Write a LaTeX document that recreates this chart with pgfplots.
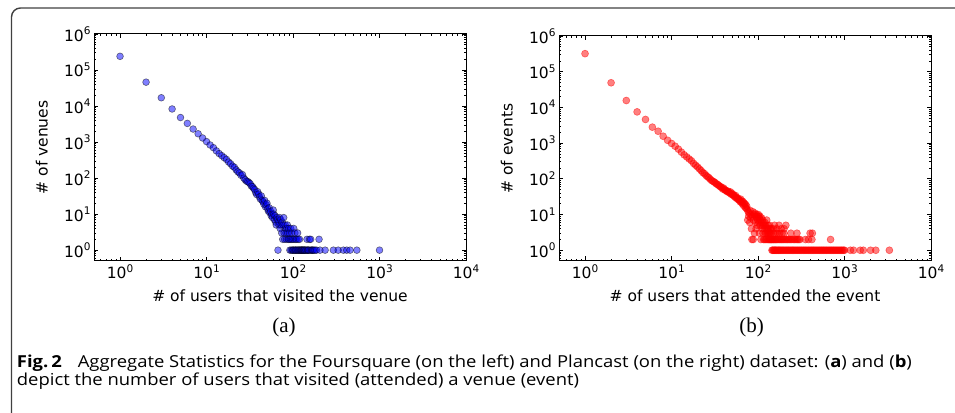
\documentclass[border=0pt]{standalone}
\usepackage{fontspec}
\usepackage{graphicx}
\usepackage{pgfplots}
\pgfplotsset{compat=1.18}
\setmainfont{DejaVu Sans}
\setsansfont{Open Sans}
\setmonofont{Liberation Serif}
\newsavebox\capone
\newsavebox\captwo
\definecolor{framegray}{gray}{0.25}
\pgfplotsset{
  myaxis/.style={
    scale only axis,
    xmin=0.5, xmax=10000, ymin=0.5, ymax=1000000,
    xtick={1,10,100,1000,10000},
    ytick={1,10,100,1000,10000,100000,1000000},
    minor xtick={0.6,0.7,0.8,0.9,2,3,4,5,6,7,8,9,20,30,40,50,60,70,80,90,200,300,400,500,600,700,800,900,2000,3000,4000,5000,6000,7000,8000,9000},
    minor ytick={0.6,0.7,0.8,0.9,2,3,4,5,6,7,8,9,20,30,40,50,60,70,80,90,200,300,400,500,600,700,800,900,2000,3000,4000,5000,6000,7000,8000,9000,20000,30000,40000,50000,60000,70000,80000,90000,200000,300000,400000,500000,600000,700000,800000,900000},
    tick align=inside,
    major tick length=4.5pt, minor tick length=2.2pt,
    axis line style={line width=1pt, black},
    every tick/.style={black, line width=0.7pt},
    xticklabel={10\raisebox{6.5pt}{\fontsize{10.5}{12}\selectfont\pgfmathparse{int(round(\tick))}\pgfmathresult}},
    yticklabel={10\raisebox{6.5pt}{\fontsize{10.5}{12}\selectfont\pgfmathparse{int(round(\tick))}\pgfmathresult}},
    ticklabel style={font=\fontsize{15.5}{18}\selectfont, black},
    label style={font=\fontsize{15.5}{18}\selectfont, black},
    clip=false,
  }
}
\begin{document}
\sbox\capone{\sffamily\fontsize{16.5}{19}\selectfont\textbf{Fig.\,2}\hspace{0.6em} Aggregate Statistics for the Foursquare (on the left) and Plancast (on the right) dataset: (\textbf{a}) and (\textbf{b})}%
\sbox\captwo{\sffamily\fontsize{16.5}{19}\selectfont depict the number of users that visited (attended) a venue (event)}%
\pgfmathsetmacro\capscale{895/\wd\capone}%
\begin{tikzpicture}[x=1pt,y=1pt]
\useasboundingbox (0,0) rectangle (955,412);
\begin{scope}
\clip (0,0) rectangle (955,412);
\draw[framegray, line width=1.4pt, rounded corners=9pt] (11.5,-40) rectangle (1000,404);
\end{scope}

\begin{loglogaxis}[myaxis, log basis x=10, log basis y=10,
  at={(94pt,151pt)}, anchor=south west,
  width=372pt, height=227pt,
  xlabel={\# of users that visited the venue},
  ylabel={\# of venues},
  xlabel style={at={(axis description cs:0.5,-0.154)}, anchor=center},
  ylabel style={at={(axis description cs:-0.14,0.5)}, anchor=center},
]
\addplot[only marks, mark=*, mark size=3.4pt,
  mark options={fill=blue, fill opacity=0.5, draw=black, draw opacity=0.5, line width=0.6pt}]
coordinates {
(1,240000)(2,46000)(3,17000)(4,8300)(5,4800)(6,3300)(7,2300)(8,1700)(9,1300)(10,1030)
(11,830)(12,700)(13,570)(14,480)(15,420)(16,370)(17,330)(18,280)(19,250)(20,215)
(21,200)(22,170)(23,150)(24,140)(25,120)(26,125)(27,100)(28,90)(29,82)(30,80)
(31,75)(32,70)(33,60)(34,58)(35,52)(36,48)(37,40)(38,35)(39,42)(40,36)
(41,30)(42,26)(43,32)(44,24)(45,22)(46,19)(47,24)(48,16)(49,18)(50,20)
(51,14)(52,12)(53,15)(54,11)(55,12)(56,9)(57,10)(58,8)(59,13)(60,10)
(61,7)(62,9)(63,6)(64,5)(65,8)(66,7)(67,1)(68,6)(69,5)(70,8)
(71,4)(72,7)(73,5)(74,3)(75,6)(76,2)(77,5)(78,8)(79,3)(80,2)
(81,5)(82,4)(83,3)(84,2)(85,4)(86,5)(87,3)(88,2)(89,4)(90,2)
(91,3)(92,1)(93,2)(94,4)(95,1)(96,2)(97,3)(98,1)(99,2)(100,1)
(101,1)(102,4)(103,2)(104,1)(105,3)(106,1)(107,2)(108,1)(109,1)(110,2)
(112,1)(113,3)(114,1)(115,2)(116,1)(118,1)(119,2)(120,1)(122,1)(124,1)
(125,1)(127,1)(128,1)(130,1)(132,1)(134,1)(135,1)(137,1)(140,1)(142,1)
(145,2)(146,1)(148,1)(150,1)(152,1)(155,2)(157,1)(160,2)(162,1)(165,1)
(168,1)(170,1)(175,1)(180,1)(187,1)(200,2)(205,1)(235,1)(293,1)(333,1)
(382,1)(418,1)(457,1)(547,1)(1000,1)
};
\end{loglogaxis}

\begin{loglogaxis}[myaxis, log basis x=10, log basis y=10,
  at={(559pt,151pt)}, anchor=south west,
  width=372pt, height=225pt,
  xlabel={\# of users that attended the event},
  ylabel={\# of events},
  xlabel style={at={(axis description cs:0.5,-0.156)}, anchor=center},
  ylabel style={at={(axis description cs:-0.14,0.5)}, anchor=center},
]
\addplot[only marks, mark=*, mark size=3.5pt,
  mark options={fill=red, draw=red, opacity=0.5, line width=0.6pt}]
coordinates {
(1,320000)(2,49000)(3,15600)(4,7500)(5,4600)(6,2800)(7,2150)(8,1560)(9,1200)(10,980)
(11,820)(12,680)(13,560)(14,470)(15,410)(16,360)(17,320)(18,270)(19,240)(20,215)
(21,190)(22,170)(23,150)(24,140)(25,125)(26,115)(27,108)(28,98)(29,90)(30,86)
(31,82)(32,78)(33,72)(34,70)(35,66)(36,62)(37,60)(38,57)(39,52)(40,55)
(41,50)(42,48)(43,46)(44,44)(45,45)(46,42)(47,40)(48,43)(49,37)(50,39)
(51,35)(52,36)(53,33)(54,31)(55,34)(56,29)(57,30)(58,27)(59,28)(60,26)
(61,25)(62,23)(63,27)(64,22)(65,24)(66,20)(67,23)(68,18)(69,21)(70,20)
(71,16)(72,19)(73,15)(74,17)
(75,14)(76,7)(77,12)(78,9)(79,11)(80,6)(81,13)(82,8)(83,10)(84,4)
(85,2)(86,9)(87,12)(88,2)(89,7)(90,10)(91,3)(92,11)(93,6)(94,9)
(95,4)(96,10)(97,8)(98,5)(99,7)(100,9)(101,10)(102,6)(103,8)(104,3)
(105,9)(106,5)(107,7)(108,2)(109,6)(110,8)(111,4)(112,5)(113,7)(114,3)
(115,6)(116,2)(117,5)(118,4)(119,2)(120,6)(121,3)(122,5)(123,2)(124,4)
(125,3)(126,7)(127,2)(128,4)(129,3)(130,5)(131,2)(132,3)(133,4)(134,2)
(135,3)(136,5)(137,2)(138,3)(139,4)(140,2)(141,3)(142,2)(143,4)(144,2)
(147,2)(150,2)(153,2)(157,2)(161,2)(165,2)(170,2)(175,2)(180,2)(186,2)
(192,2)(198,2)(205,2)(212,2)(220,2)(228,2)(236,2)(245,2)(255,2)(265,2)
(275,2)(285,2)(295,2)(305,2)(353,2)(383,2)(420,2)(690,2)
(152,3)(160,3)(168,3)(178,3)(190,3)(200,3)(240,3)(282,3)(400,3)(425,3)
(150,4)(165,4)(185,4)(200,4)(155,5)(175,5)(210,5)
(145,1)(148,1)(151,1)(154,1)(157,1)(160,1)(164,1)(168,1)(172,1)(176,1)
(180,1)(185,1)(190,1)(195,1)(200,1)(206,1)(212,1)(218,1)(224,1)(230,1)
(237,1)(244,1)(251,1)(258,1)(266,1)(274,1)(282,1)(290,1)(299,1)(308,1)
(317,1)(327,1)(337,1)(347,1)(357,1)(368,1)(379,1)(390,1)(402,1)(414,1)
(426,1)(439,1)(452,1)(466,1)(480,1)(494,1)(509,1)(524,1)(540,1)(556,1)
(573,1)(590,1)(608,1)(626,1)(645,1)(664,1)(684,1)(705,1)(726,1)(748,1)
(770,1)(793,1)(817,1)(841,1)(866,1)(892,1)(919,1)(946,1)(975,1)(1000,1)
(1170,1)(1270,1)(1520,1)(1650,1)(2000,1)(2300,1)(3300,1)
};
\end{loglogaxis}

\node[font=\ttfamily\fontsize{21}{24}\selectfont, anchor=base, inner sep=0pt] at (284,79) {(a)};
\node[font=\ttfamily\fontsize{21}{24}\selectfont, anchor=base, inner sep=0pt] at (751.5,79) {(b)};

\node[anchor=base west, inner sep=0pt] at (16.7,44) {\scalebox{\capscale}[1]{\usebox\capone}};
\node[anchor=base west, inner sep=0pt] at (16.7,26) {\scalebox{\capscale}[1]{\usebox\captwo}};
\end{tikzpicture}
\end{document}
